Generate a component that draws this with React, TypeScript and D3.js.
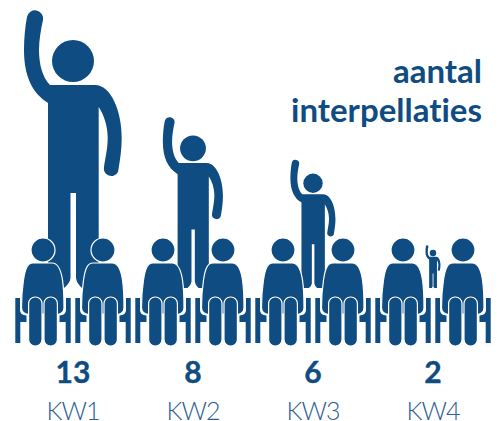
import React from "react";
import * as d3 from "d3";

const categories = ["KW1", "KW2", "KW3", "KW4"];
const values = [13, 8, 6, 2];
const titleLines = ["aantal", "interpellaties"];
const seatOffsets = [-30, 30];

const WIDTH = 501;
const HEIGHT = 421;
const BLUE = "#0f4c81";
const LABEL_BLUE = "#2c6094";
const FONT = "Lato, sans-serif";
const BASE_Y = 288;
const GLYPH_H = 277;

const x = d3.scaleBand<string>().domain(categories).range([13, 493]);
const h = d3.scaleLinear().domain([0, 13]).range([0, GLYPH_H]);

const BODY =
  "M-25,92 L-25,277 H-9 Q-3,272 -2.5,267 V182 H3 V267 Q3.5,272 9,277 H25.7 V96 " +
  "C31,104 34.7,115 34.7,127 C34.7,138 32,148 31,156 A7.5,7.5 0 0 0 45,161 " +
  "C47,150 48.7,138 48.7,127 C48.7,100 38,74 22,74 H-23 " +
  "C-31,66 -34,52 -34,39 C-34,29 -32,18 -30,9 A7.5,7.5 0 0 0 -46,6 " +
  "C-48,16 -49,28 -49,39 C-49,65 -41,82 -25,92 Z";

const TORSO =
  "M-10,-27 H9 C15,-27 18,-20 19.5,-10 C21,0 21,10 21,18 C21,23 16,25 13,24 H-13 C-16,25 -21.5,23 -21.5,18 " +
  "C-21.5,8 -21,0 -19.5,-10 C-18,-20 -16,-27 -10,-27 Z";

const ARM = "M-27.7,8 H-23 V20 Q-23,25 -16.5,25.5 V32 H-22.7 V53 H-27.7 Z";

function Standing({ cx, value }: { cx: number; value: number }) {
  const s = h(value) / GLYPH_H;
  return (
    <g transform={`translate(${cx},${BASE_Y - h(value)}) scale(${s})`} fill={BLUE}>
      <circle cx={0} cy={50} r={21} />
      <path d={BODY} />
    </g>
  );
}

function Seated({ cx }: { cx: number }) {
  return (
    <g transform={`translate(${cx},290)`} fill={BLUE} stroke="#fff" strokeWidth={1.2}>
      <path d={ARM} stroke="none" />
      <path d={ARM} stroke="none" transform="scale(-1,1)" />
      <path d={TORSO} />
      <circle cx={0} cy={-40} r={12} />
      <rect x={-14.4} y={7} width={13.4} height={49} rx={6.5} />
      <rect x={1} y={7} width={13.4} height={49} rx={6.5} />
    </g>
  );
}

export default function App() {
  return (
    <svg
      width={WIDTH}
      height={HEIGHT}
      style={{ position: "absolute", left: 0, top: 0, background: "#fff" }}
    >
      {categories.map((c, i) => {
        const cx = x(c)! + x.bandwidth() / 2;
        return (
          <g key={c}>
            <Standing cx={cx} value={values[i]} />
            {seatOffsets.map((o) => (
              <Seated key={o} cx={cx + o} />
            ))}
            <text x={cx} y={383} textAnchor="middle" fontFamily={FONT} fontWeight={700} fontSize={30} fill={BLUE} stroke={BLUE} strokeWidth={0.4}>
              {values[i]}
            </text>
            <text x={cx} y={420} textAnchor="middle" fontFamily={FONT} fontWeight={300} fontSize={25} letterSpacing={-1} fill={LABEL_BLUE}>
              {c}
            </text>
          </g>
        );
      })}
      {titleLines.map((t, i) => (
        <text key={t} x={482} y={83 + i * 39} textAnchor="end" fontFamily={FONT} fontWeight={700} fontSize={33} style={{ fontVariantLigatures: "none" }} fill={BLUE}>
          {t}
        </text>
      ))}
    </svg>
  );
}
